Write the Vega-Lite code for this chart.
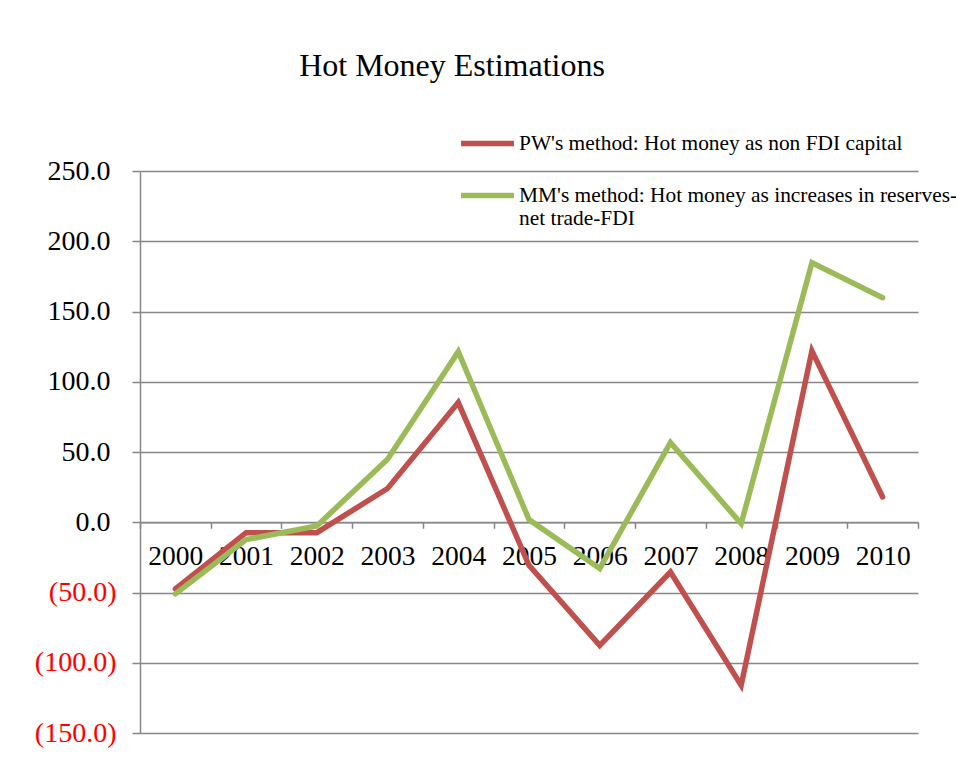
{
  "$schema": "https://vega.github.io/schema/vega-lite/v6.json",
  "width": 778,
  "height": 562,
  "autosize": {"type": "none"},
  "padding": {"left": 140, "top": 171, "right": 38, "bottom": 26},
  "background": "white",
  "title": {
    "text": "Hot Money Estimations",
    "font": "Liberation Serif",
    "fontSize": 32,
    "fontWeight": "normal",
    "color": "black",
    "anchor": "middle",
    "frame": "group",
    "dx": -77,
    "offset": 31
  },
  "data": {
    "values": [
      {"year": "2000", "method": "PW", "value": -47.4},
      {"year": "2001", "method": "PW", "value": -7.4},
      {"year": "2002", "method": "PW", "value": -7.4},
      {"year": "2003", "method": "PW", "value": 24.0},
      {"year": "2004", "method": "PW", "value": 85.2},
      {"year": "2005", "method": "PW", "value": -30.6},
      {"year": "2006", "method": "PW", "value": -87.6},
      {"year": "2007", "method": "PW", "value": -35.4},
      {"year": "2008", "method": "PW", "value": -116.0},
      {"year": "2009", "method": "PW", "value": 122.0},
      {"year": "2010", "method": "PW", "value": 18.0},
      {"year": "2000", "method": "MM", "value": -51.0},
      {"year": "2001", "method": "MM", "value": -12.4},
      {"year": "2002", "method": "MM", "value": -2.6},
      {"year": "2003", "method": "MM", "value": 44.8},
      {"year": "2004", "method": "MM", "value": 121.4},
      {"year": "2005", "method": "MM", "value": 1.9},
      {"year": "2006", "method": "MM", "value": -33.0},
      {"year": "2007", "method": "MM", "value": 56.7},
      {"year": "2008", "method": "MM", "value": -1.0},
      {"year": "2009", "method": "MM", "value": 184.7},
      {"year": "2010", "method": "MM", "value": 159.8}
    ]
  },
  "mark": {"type": "line", "strokeWidth": 5.5, "strokeCap": "round", "strokeJoin": "miter"},
  "encoding": {
    "x": {
      "field": "year",
      "type": "ordinal",
      "bandPosition": 0.5,
      "scale": {"type": "band", "paddingInner": 0, "paddingOuter": 0},
      "axis": {
        "title": null,
        "orient": "bottom",
        "offset": -210.75,
        "labelAngle": 0,
        "labelFont": "Liberation Serif",
        "labelFontSize": 27.5,
        "labelColor": "black",
        "labelPadding": 14,
        "labelBaseline": "top",
        "tickBand": "extent",
        "tickSize": 6,
        "tickColor": "#878787",
        "domainColor": "#878787",
        "domainWidth": 1.5,
        "tickWidth": 1.5,
        "grid": false
      }
    },
    "y": {
      "field": "value",
      "type": "quantitative",
      "scale": {"domain": [-150, 250], "nice": false, "zero": false},
      "axis": {
        "title": null,
        "values": [-150, -100, -50, 0, 50, 100, 150, 200, 250],
        "labelExpr": "datum.value < 0 ? '(' + format(-datum.value, '.1f') + ')' : format(datum.value, '.1f')",
        "labelColor": {"condition": {"test": "datum.value < 0", "value": "#ff0000"}, "value": "black"},
        "labelPadding": {"condition": {"test": "datum.value < 0", "value": 16}, "value": 22},
        "labelFont": "Liberation Serif",
        "labelFontSize": 28,
        "tickSize": 8,
        "tickColor": "#878787",
        "tickWidth": 1.5,
        "domainColor": "#878787",
        "domainWidth": 1.5,
        "grid": true,
        "gridColor": "#878787",
        "gridWidth": 1.5
      }
    },
    "color": {
      "field": "method",
      "type": "nominal",
      "sort": ["PW", "MM"],
      "scale": {"domain": ["PW", "MM"], "range": ["#C0504D", "#9BBB59"]},
      "legend": {
        "title": null,
        "orient": "none",
        "legendX": 318,
        "legendY": -57,
        "symbolType": "stroke",
        "symbolSize": 2809,
        "symbolStrokeWidth": 5.5,
        "labelFont": "Liberation Serif",
        "labelFontSize": 21.4,
        "labelColor": "black",
        "labelOffset": 2,
        "labelLimit": 600,
        "labelBaseline": "middle",
        "rowPadding": 11,
        "labelExpr": "datum.value == 'PW' ? 'PW\\u0027s method: Hot money as non FDI capital' : ['MM\\u0027s method: Hot money as increases in reserves-', 'net trade-FDI']"
      }
    }
  },
  "config": {
    "view": {"stroke": null},
    "font": "Liberation Serif"
  }
}
